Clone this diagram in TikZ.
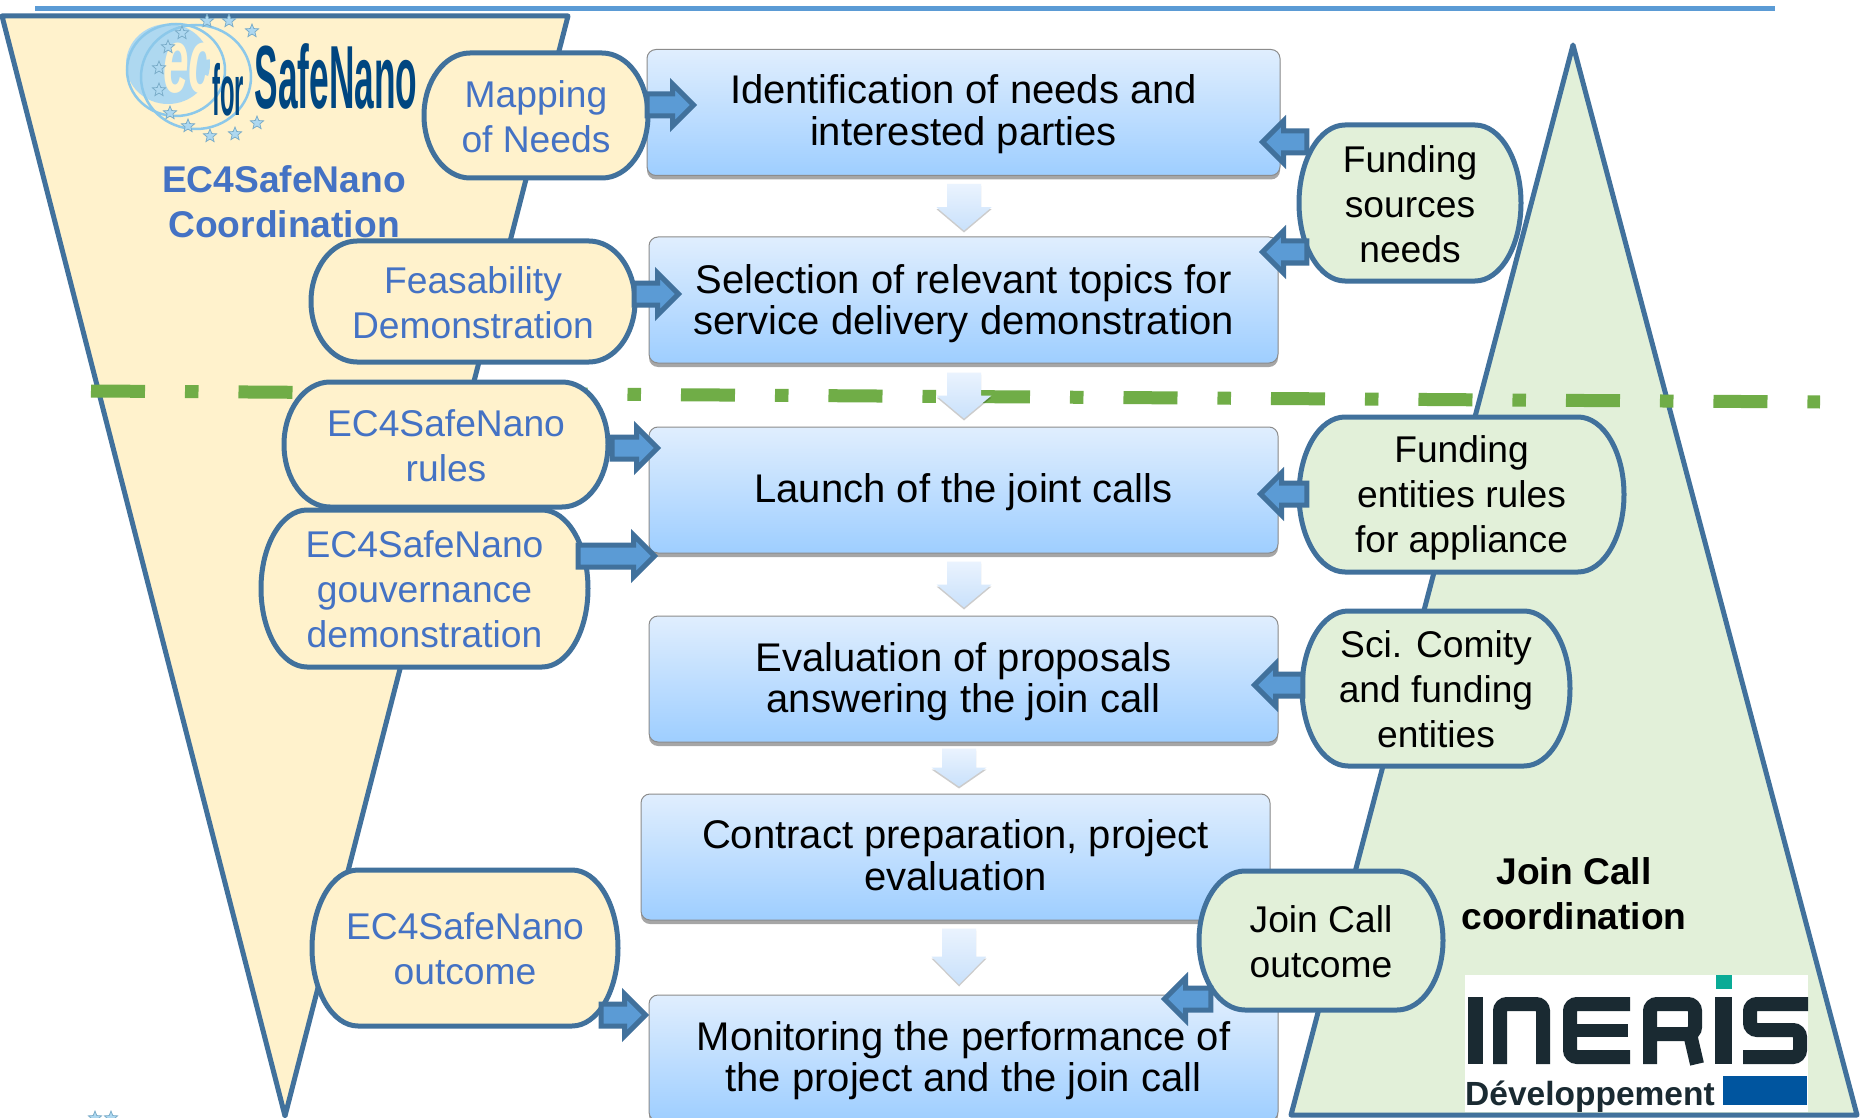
\documentclass[tikz,border=0pt]{standalone}
\usepackage{fontspec}
\setmainfont{Liberation Sans}
\usepackage{tikz}
\usetikzlibrary{calc,shadows,shapes.geometric}

\definecolor{rimblue}{HTML}{41719C}
\definecolor{arrowblue}{HTML}{5B9BD5}
\definecolor{capyellow}{HTML}{FFF2CC}
\definecolor{capgreen}{HTML}{E2F0D9}
\definecolor{textblue}{HTML}{4472C4}
\definecolor{dashgreen}{HTML}{70AD47}
\definecolor{logonavy}{HTML}{004680}
\definecolor{logosky}{HTML}{AED8F0}
\definecolor{logoring}{HTML}{8CC8EA}
\definecolor{inkdark}{HTML}{1A2A32}
\definecolor{boxtop}{HTML}{E0EEFE}
\definecolor{boxbottom}{HTML}{9ECEFF}
\definecolor{paletop}{HTML}{EAF3FE}
\definecolor{palebottom}{HTML}{C9E1FB}
\definecolor{inkteal}{HTML}{0AAB96}
\definecolor{inkblue}{HTML}{00559F}

\tikzset{
  triside/.style={draw=rimblue,line width=5pt,line join=round},
  topline/.style={draw=arrowblue,line width=5pt},
  midline/.style={draw=dashgreen,line width=13pt,dash pattern=on 54pt off 40pt on 13.5pt off 40pt},
  stepbox/.style={draw=black!45,line width=1pt,rounded corners=9pt,top color=boxtop,
    bottom color=boxbottom,inner sep=0pt,align=center,minimum width=629pt,minimum height=126pt,
    drop shadow={shadow xshift=0pt,shadow yshift=-4pt,opacity=.35,fill=black},
    font=\fontsize{40}{41.5}\selectfont},
  capline/.style={draw=rimblue,line width=5pt},
  capyel/.style={capline,fill=capyellow},
  capgrn/.style={capline,fill=capgreen},
  captext/.style={inner sep=0pt,align=center,font=\fontsize{37.2}{45}\selectfont},
  fatarrow/.style={draw=rimblue,fill=arrowblue,line width=5pt,line join=miter},
  paleshaft/.style={top color=paletop,bottom color=palebottom,
    drop shadow={shadow xshift=0pt,shadow yshift=-2pt,opacity=.2,fill=black}},
  headtext/.style={inner sep=0pt,align=center,font=\fontsize{37.2}{45}\selectfont\bfseries},
  logostar/.style={star,star points=5,star point ratio=2.3,inner sep=0pt,minimum size=14pt,
    fill=logosky,draw=logoring!85!black,line width=.7pt},
  inkstroke/.style={draw=inkdark,line width=14pt,rounded corners=7pt},
}

% capsule: name, style, x1, y1, x2, y2, text
\newcommand{\capnode}[8][]{
  \draw[#3] (#4+46,#5) arc[start angle=270,end angle=90,x radius=46,y radius=(#7-#5)/2]
    -- (#6-46,#7) arc[start angle=90,end angle=-90,x radius=46,y radius=(#7-#5)/2] -- cycle;
  \pgfmathsetmacro{\capw}{#6-#4}
  \pgfmathsetmacro{\caph}{#7-#5}
  \node[captext,minimum width=\capw pt,minimum height=\caph pt,#1] (#2) at ({(#4+#6)/2},{(#5+#7)/2+1}) {#8};
}
% block arrow between two points, horizontal
\newcommand{\blockarrow}[2]{
  \draw[fatarrow] let \p1=#1,\p2=#2,\n1={sign(\x2-\x1)} in
    (\x1,\y1-11pt) -- (\x2-\n1*24pt,\y1-11pt) -- (\x2-\n1*24pt,\y1-21pt) -- (\x2-\n1*3pt,\y1)
    -- (\x2-\n1*24pt,\y1+21pt) -- (\x2-\n1*24pt,\y1+11pt) -- (\x1,\y1+11pt) -- cycle;
}
% pale arrow going down between two boxes
\newcommand{\palearrow}[2]{
  \path[paleshaft] let \p1=#1,\p2=#2,\n1={(\y1-\y2)/2} in
    (\x1-17pt,\y1) -- (\x1+17pt,\y1) -- (\x1+17pt,\y2+\n1) -- (\x1+27.5pt,\y2+\n1) -- (\x1,\y2)
    -- (\x1-27.5pt,\y2+\n1) -- (\x1-17pt,\y2+\n1) -- cycle;
}

\begin{document}
\begin{tikzpicture}[x=1pt,y=-1pt]
\useasboundingbox (0,0) rectangle (1861,1118);
\fill[white] (0,0) rectangle (1861,1118);

\draw[topline] (35,8.5) -- (1775,8.5);
% the two triangles
\draw[triside,fill=capyellow] (2,16) -- (568,16) -- (285,1116) -- cycle;
\draw[triside,fill=capgreen] (1573,45) -- (1857,1115) -- (1291,1115) -- cycle;
\draw[midline] (91,391) -- (1820,402);

% logo on the left
\fill[logosky] (168,64) ellipse (42 and 40);
\draw[logoring,line width=2.5pt] (176,70) ellipse (49 and 46);
\draw[logoring,line width=2.5pt] (196,77) ellipse (55 and 52);
\node[inner sep=0pt,text=capyellow] (logoec) at (189,68) {\scalebox{.5}[1]{\fontsize{92}{92}\selectfont\bfseries\itshape ec}};
\node[inner sep=0pt,text=logonavy] (logofor) at (228,90) {\scalebox{.33}[1]{\fontsize{72}{72}\selectfont\bfseries for}};
\node[inner sep=0pt,text=logonavy] (logoname) at (336,76) {\scalebox{.425}[1.08]{\fontsize{83}{83}\selectfont\bfseries SafeNano}};
\foreach \sx/\sy [count=\i] in {207/21,229/21,252/31,182/33,168/47,159/68,159/90,170/113,188/126,210/136,235/134,257/123,95/1118,111/1118}
  \node[logostar] (star\i) at (\sx,\sy) {};

\node[headtext,text=textblue] (ectitle) at (284,202) {EC4SafeNano\\Coordination};
\node[headtext,text=black] (jointitle) at (1574,894) {Join Call\\coordination};

% boxes
\node[stepbox,minimum width=633pt] (box1) at (963.5,112.5) {\rule{0pt}{32pt}Identification of needs and\\interested parties};
\node[stepbox] (box2) at (963.5,300) {\rule{0pt}{36pt}Selection of relevant topics for\\service delivery demonstration};
\node[stepbox] (box3) at (963.5,490) {\rule{0pt}{34pt}Launch of the joint calls};
\node[stepbox] (box4) at (963.5,679) {\rule{0pt}{34pt}Evaluation of proposals\\answering the join call};
\node[stepbox] (box5) at (955.5,857) {Contract preparation, project\\evaluation\rule[-3.5pt]{0pt}{0pt}};
\node[stepbox] (box6) at (963.5,1058) {\rule{0pt}{34pt}Monitoring the performance of\\the project and the join call};

\palearrow{($(box1.south)+(.5,8)$)}{($(box2.north)+(.5,-6)$)}
\palearrow{($(box2.south)+(.5,9)$)}{($(box3.north)+(.5,-8)$)}
\palearrow{($(box3.south)+(.5,8)$)}{($(box4.north)+(.5,-8)$)}
\palearrow{($(box4.south)+(-4.5,6)$)}{($(box5.north)+(3.5,-7)$)}
\palearrow{($(box5.south)+(3.5,8)$)}{($(box6.north)+(-4.5,-10)$)}

% capsules left
\capnode[text=textblue]{mapping}{capyel}{424}{53}{648}{178}{Mapping\\of Needs}
\capnode[text=textblue]{feasab}{capyel}{311}{241}{635}{362}{Feasability\\Demonstration}
\capnode[text=textblue]{rules}{capyel}{284}{382}{608}{507}{EC4SafeNano\\rules}
\capnode[text=textblue]{gouv}{capyel}{261}{510}{588}{667}{EC4SafeNano\\gouvernance\\demonstration}
\capnode[text=textblue]{outcome}{capyel}{312}{870}{618}{1026}{EC4SafeNano\\outcome}
% capsules right
\capnode{fundsrc}{capgrn}{1299}{125}{1521}{281}{Funding\\sources\\needs}
\capnode[yshift=-2.5pt]{fundent}{capgrn}{1299}{417}{1624}{572}{Funding\\entities rules\\for appliance}
\capnode{scicom}{capgrn}{1302}{611}{1570}{766}{Sci. Comity\\and funding\\entities}
\capnode{joinout}{capgrn}{1199}{871}{1443}{1010}{Join Call\\outcome}

\blockarrow{($(mapping.east)+(-1,-11.5)$)}{($(box1.west)+(50,0)$)}
\blockarrow{($(feasab.east)+(-1,-8.5)$)}{($(box2.west)+(33,0)$)}
\blockarrow{($(rules.east)+(4,2.5)$)}{($(box3.west)+(12,0)$)}
\blockarrow{($(gouv.east)+(-10,-33.5)$)}{($(box3.west)+(9,0)$)}
\blockarrow{($(outcome.east)+(-17,66)$)}{($(box6.west)+(0,0)$)}
\blockarrow{($(fundsrc.west)+(8,-62)$)}{($(box1.east)+(-21,0)$)}
\blockarrow{($(fundsrc.west)+(8,48)$)}{($(box2.east)+(-19,0)$)}
\blockarrow{($(fundent.west)+(8,-4)$)}{($(box3.east)+(-21,0)$)}
\blockarrow{($(scicom.west)+(1,-4.5)$)}{($(box4.east)+(-27,0)$)}
\blockarrow{($(joinout.west)+(12,57.5)$)}{($(box6.east)+(-117,0)$)}

% logo on the right
\fill[white] (1465,975) rectangle (1808,1112);
\fill[inkdark] (1468,997) rectangle (1483,1064);
\draw[inkstroke] (1500,1064) -- (1500,1004) -- (1543,1004) -- (1543,1064);
\draw[inkstroke] (1630,1004) -- (1570,1004) -- (1570,1057) -- (1630,1057);
\draw[draw=inkdark,line width=13pt] (1570,1030) -- (1628,1030);
\draw[inkstroke] (1650,1064) -- (1650,1004) -- (1695,1004) -- (1695,1034) -- (1650,1034);
\draw[draw=inkdark,line width=14pt] (1690,1034) -- (1697,1064);
\fill[inkdark] (1715,997) rectangle (1732,1064);
\fill[inkteal] (1716,975) rectangle (1732,989);
\draw[inkstroke] (1808,1004) -- (1750,1004) -- (1750,1030) -- (1800,1030) -- (1800,1057) -- (1743,1057);
\fill[inkblue] (1723,1076) rectangle (1807,1105);
\node[anchor=base west,inner sep=0pt,text=inkdark,font=\fontsize{33.5}{33.5}\selectfont\bfseries] (inerisdev) at (1465,1105) {Développement};
\end{tikzpicture}
\end{document}
